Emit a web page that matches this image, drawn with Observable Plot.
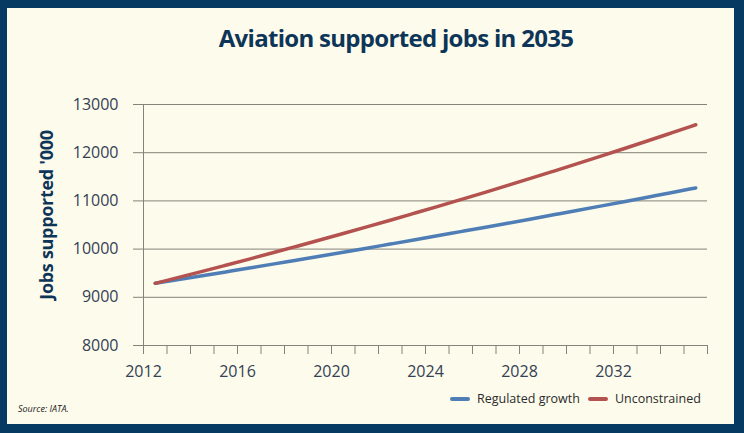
<!DOCTYPE html>
<html>
<head>
<meta charset="utf-8">
<script src="https://cdn.jsdelivr.net/npm/d3@7"></script>
<script src="https://cdn.jsdelivr.net/npm/@observablehq/plot@0.6"></script>
<style>
  html, body { margin: 0; padding: 0; background: #073a63; }
  #wrap { position: relative; width: 744px; height: 433px; background: #073a63; overflow: hidden; font-family: "Open Sans", sans-serif; }
  #panel { position: absolute; left: 7px; top: 8px; width: 727px; height: 416px; background: #fdfbeb; }
  #title { position: absolute; left: 0; top: 21px; width: 792px; text-align: center; font-size: 24px; font-weight: 700; color: #0d3558; letter-spacing: -0.7px; white-space: nowrap; }
  #ylabel { position: absolute; left: 46px; top: 215px; transform: translate(-50%, -50%) rotate(-90deg); font-size: 18px; font-weight: 700; color: #0d3558; letter-spacing: -0.3px; white-space: nowrap; }
  #chart { position: absolute; left: 0; top: 0; }
  #legend { position: absolute; left: 450px; top: 390px; font-size: 12.5px; color: #2b2b2b; display: flex; align-items: center; white-space: nowrap; }
  .sw { display: inline-block; width: 20px; height: 4px; border-radius: 2px; margin-right: 7px; }
  .item { display: flex; align-items: center; margin-right: 8px; }
  #source { position: absolute; left: 18px; top: 402px; font-size: 9px; font-style: italic; color: #1a1a1a; }
</style>
</head>
<body>
<div id="wrap">
  <div id="panel"></div>
  <div id="chart"></div>
  <div id="title"></div>
  <div id="ylabel"></div>
  <div id="legend"></div>
  <div id="source"></div>
</div>
<script>
const titleText = "Aviation supported jobs in 2035";
const yLabelText = "Jobs supported '000";
const sourceText = "Source: IATA.";

const years = [2012.5, 2013.5, 2014.5, 2015.5, 2016.5, 2017.5, 2018.5, 2019.5, 2020.5, 2021.5, 2022.5, 2023.5,
               2024.5, 2025.5, 2026.5, 2027.5, 2028.5, 2029.5, 2030.5, 2031.5, 2032.5, 2033.5, 2034.5, 2035.5];
const regulated = [9290, 9368, 9447, 9527, 9607, 9688, 9770, 9852, 9935, 10019, 10104, 10189,
                   10275, 10362, 10449, 10537, 10626, 10716, 10806, 10897, 10989, 11082, 11175, 11269];
const unconstrained = [9290, 9413, 9538, 9665, 9793, 9923, 10055, 10188, 10323, 10460, 10599, 10740,
                       10882, 11027, 11173, 11321, 11471, 11624, 11778, 11934, 12093, 12253, 12416, 12580];
const seriesNames = ["Regulated growth", "Unconstrained"];
const seriesColors = ["#4f7eb6", "#b4524f"];

const xTickLabels = [2012, 2016, 2020, 2024, 2028, 2032];
const xMinorTicks = [2012, 2013, 2014, 2015, 2016, 2017, 2018, 2019, 2020, 2021, 2022, 2023, 2024,
                     2025, 2026, 2027, 2028, 2029, 2030, 2031, 2032, 2033, 2034, 2035, 2036];
const yTicks = [8000, 9000, 10000, 11000, 12000, 13000];

const data = [];
years.forEach((yr, i) => {
  data.push({year: yr, value: regulated[i], series: seriesNames[0]});
  data.push({year: yr, value: unconstrained[i], series: seriesNames[1]});
});

const gridColor = "#858279";

const chart = Plot.plot({
  width: 744,
  height: 433,
  marginLeft: 143,
  marginRight: 37,
  marginTop: 104,
  marginBottom: 88,
  style: {fontFamily: "'Open Sans', sans-serif", fontSize: "16px", color: "#334155", background: "transparent", overflow: "visible"},
  x: {domain: [2012, 2036]},
  y: {domain: [8000, 13000]},
  color: {domain: seriesNames, range: seriesColors},
  marks: [
    Plot.ruleY(yTicks, {stroke: gridColor, strokeWidth: 1, strokeOpacity: 1}),
    Plot.ruleX([2012], {stroke: gridColor, strokeWidth: 1}),
    Plot.axisY({ticks: yTicks, tickSize: 10, tickPadding: 15, stroke: gridColor, strokeOpacity: 1, label: null, tickFormat: d => String(d), fill: "#334155"}),
    Plot.axisX({ticks: xMinorTicks, tickSize: 9, tickFormat: () => "", stroke: gridColor, strokeOpacity: 1, label: null}),
    Plot.axisX({ticks: xTickLabels, tickSize: 9, tickPadding: 11, tickFormat: d => String(d), stroke: gridColor, strokeOpacity: 1, label: null, fill: "#334155"}),
    Plot.line(data, {x: "year", y: "value", z: "series", stroke: "series", strokeWidth: 3.5, strokeLinecap: "round", curve: "monotone-x"})
  ]
});
document.getElementById("chart").appendChild(chart);

document.getElementById("title").textContent = titleText;
document.getElementById("ylabel").textContent = yLabelText;
document.getElementById("source").textContent = sourceText;
const legend = document.getElementById("legend");
seriesNames.forEach((name, i) => {
  const item = document.createElement("span");
  item.className = "item";
  const sw = document.createElement("span");
  sw.className = "sw";
  sw.style.background = seriesColors[i];
  item.appendChild(sw);
  item.appendChild(document.createTextNode(name));
  legend.appendChild(item);
});
</script>
</body>
</html>
